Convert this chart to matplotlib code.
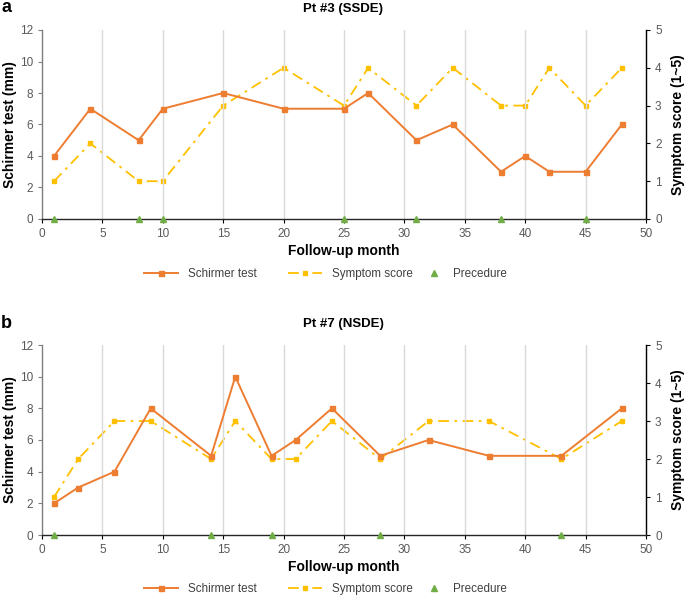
import matplotlib
matplotlib.use("Agg")
import matplotlib.pyplot as plt

plt.rcParams['font.family'] = ['Liberation Sans', 'DejaVu Sans']

# Panel a: Pt #3 (SSDE)
a_months_schirmer = [1, 4, 8, 10, 15, 20, 25, 27, 31, 34, 38, 40, 42, 45, 48]
a_schirmer = [4, 7, 5, 7, 8, 7, 7, 8, 5, 6, 3, 4, 3, 3, 6]
a_months_symptom = [1, 4, 8, 10, 15, 20, 25, 27, 31, 34, 38, 40, 42, 45, 48]
a_symptom = [1, 2, 1, 1, 3, 4, 3, 4, 3, 4, 3, 3, 4, 3, 4]
a_procedure = [1, 8, 10, 25, 31, 38, 45]

# Panel b: Pt #7 (NSDE)
b_months_schirmer = [1, 3, 6, 9, 14, 16, 19, 21, 24, 28, 32, 37, 43, 48]
b_schirmer = [2, 3, 4, 8, 5, 10, 5, 6, 8, 5, 6, 5, 5, 8]
b_months_symptom = [1, 3, 6, 9, 14, 16, 19, 21, 24, 28, 32, 37, 43, 48]
b_symptom = [1, 2, 3, 3, 2, 3, 2, 2, 3, 2, 3, 3, 2, 3]
b_procedure = [1, 14, 19, 28, 43]

titles = ["Pt #3 (SSDE)", "Pt #7 (NSDE)"]
panel_letters = ["a", "b"]

ORANGE = "#ED7D31"
YELLOW = "#FFC000"
GREEN = "#70AD47"
TICKC = "#595959"

fig = plt.figure(figsize=(6.85, 5.97), dpi=100)

W, H = 685, 597
def rect(l, r, top, bot):
    return [l / W, 1 - bot / H, (r - l) / W, (bot - top) / H]

panels = [
    (rect(42, 646, 30, 219), a_months_schirmer, a_schirmer, a_months_symptom, a_symptom, a_procedure, 0),
    (rect(42, 646, 345, 535), b_months_schirmer, b_schirmer, b_months_symptom, b_symptom, b_procedure, 315),
]

LEG_FS = 8.4

for i, (r, ms, s, msy, sy, proc, yoff) in enumerate(panels):
    ax = fig.add_axes(r)
    ax2 = ax.twinx()
    ax.set_xlim(0, 50)
    ax.set_ylim(0, 12)
    ax2.set_ylim(0, 5)
    ax.set_xticks(range(0, 51, 5))
    ax.set_yticks(range(0, 13, 2))
    ax2.set_yticks(range(0, 6))
    for x in range(5, 50, 5):
        ax.axvline(x, color="#D9D9D9", lw=1.0, zorder=0)

    l1, = ax.plot(ms, s, color=ORANGE, lw=1.4, marker="s", ms=3.6, zorder=3,
                  label="Schirmer test")
    l2, = ax2.plot(msy, sy, color=YELLOW, lw=1.3, ls=(0, (6, 3, 1.5, 3)),
                   marker="s", ms=3.2, zorder=3, label="Symptom score")
    l3, = ax.plot(proc, [0] * len(proc), ls="none", marker="^", color=GREEN,
                  ms=5, clip_on=False, zorder=4, label="Precedure")

    for a in (ax, ax2):
        a.spines['top'].set_visible(False)
        a.tick_params(labelsize=8.5, colors="#000000", labelcolor=TICKC, length=3, width=0.8)
    ax.spines['left'].set_color("#7F7F7F")
    ax.spines['left'].set_linewidth(1.0)
    ax.spines['bottom'].set_color("#262626")
    ax.spines['bottom'].set_linewidth(1.0)
    ax2.spines['right'].set_color("#262626")
    ax2.spines['right'].set_linewidth(1.0)
    ax2.spines['left'].set_visible(False)
    ax2.spines['bottom'].set_visible(False)
    ax.tick_params(axis='y', colors="#7F7F7F", labelcolor=TICKC)
    ax.set_zorder(ax2.get_zorder() + 1)
    ax.patch.set_visible(False)

    ax.set_ylabel("Schirmer test (mm)", fontsize=10, fontweight="bold", labelpad=2)
    ax2.set_ylabel("Symptom score (1~5)", fontsize=10, fontweight="bold", labelpad=7)
    ax.set_xlabel("Follow-up month", fontsize=10, fontweight="bold", labelpad=3)

    fig.text(343 / W, 1 - (9 + yoff) / H, titles[i], ha="center", va="center",
             fontsize=9.5, fontweight="bold")
    fig.text(1 / W, 1 - (8 + yoff) / H, panel_letters[i], ha="left", va="center",
             fontsize=13, fontweight="bold")

    leg_y = 1 - (274 + yoff) / H
    for handle, x0, hl, pad in [(l1, 144, 2.9, 0.86), (l2, 288, 2.9, 0.9), (l3, 428, 1.0, 1.1)]:
        fig.legend(handles=[handle], loc="center left", bbox_to_anchor=(x0 / W, leg_y),
                   frameon=False, fontsize=LEG_FS, handlelength=hl, handletextpad=pad,
                   borderpad=0, borderaxespad=0, labelcolor="#404040")

fig.savefig("out.png", dpi=100)
